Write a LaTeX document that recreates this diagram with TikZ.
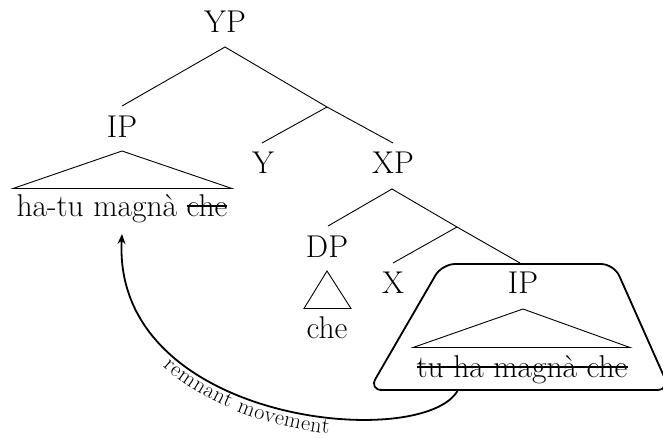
\documentclass[tikz,border=0pt]{standalone}
\usetikzlibrary{arrows.meta,decorations.text}
\newcommand\strk[1]{\setbox0\hbox{#1}\rlap{\rule[9.5pt]{\wd0}{1.1pt}}\box0}
\begin{document}
\begin{tikzpicture}[x=1pt,y=-1pt,
  lbl/.style={anchor=base,inner sep=0pt,font=\fontsize{31.5}{36}\selectfont},
  branch/.style={line width=0.9pt},
  tri/.style={line width=0.9pt},
  box/.style={line width=1.8pt,rounded corners=13pt},
  move/.style={line width=1.8pt,-{Stealth[length=10pt,width=8pt]}}]
\useasboundingbox (0,0) rectangle (663,437);
% nodes
\node[lbl] (yp) at (225,32) {YP};
\node[lbl] (ip1) at (122,137) {IP};
\node[lbl] (y) at (263,173) {Y};
\node[lbl] (xp) at (393,173) {XP};
\node[lbl] (dp) at (327,257) {DP};
\node[lbl] (x) at (393,293) {X};
\node[lbl] (ip2) at (523,293) {IP};
\node[lbl] (s1) at (122,216) {ha-tu magnà \strk{che}};
\node[lbl] (che) at (327,338) {che};
\node[lbl] (s2) at (522,377) {\strk{tu ha magnà che}};
% branch points
\coordinate (ypb) at (225,47);
\coordinate (ip1t) at (122,106);
\coordinate (ybar) at (327,107);
\coordinate (yt) at (262,143);
\coordinate (xpt) at (393,143);
\coordinate (xpb) at (392,189);
\coordinate (dpt) at (328,226);
\coordinate (xbar) at (457,227);
\coordinate (xt) at (393,263);
\coordinate (ip2t) at (520,263);
% tree
\draw[branch] (ip1t) -- (ypb) -- (ybar) -- (xpt);
\draw[branch] (ybar) -- (yt);
\draw[branch] (dpt) -- (xpb) -- (xbar) -- (ip2t);
\draw[branch] (xbar) -- (xt);
% triangles
\coordinate (t1a) at (122,151);
\coordinate (t1l) at (13,188.5);
\coordinate (t1r) at (232,188.5);
\draw[tri] (t1l) -- (t1a) -- (t1r) -- cycle;
\coordinate (t2a) at (327,271);
\coordinate (t2l) at (304,308.5);
\coordinate (t2r) at (351,308.5);
\draw[tri] (t2l) -- (t2a) -- (t2r) -- cycle;
\coordinate (t3a) at (523,309);
\coordinate (t3l) at (413,347.5);
\coordinate (t3r) at (630,347.5);
\draw[tri] (t3l) -- (t3a) -- (t3r) -- cycle;
% trapezoid
\coordinate (bm) at (528,264);
\coordinate (btr) at (614,264);
\coordinate (bbr) at (670,390);
\coordinate (bbl) at (369,390);
\coordinate (btl) at (442,264);
\draw[box] (bm) -- (btr) -- (bbr) -- (bbl) -- (btl) -- cycle;
% movement arrow
\coordinate (mstart) at (458,390);
\coordinate (mend) at (122,234);
\draw[move] (mstart) .. controls (425,452) and (112,425) .. (mend);
\fontsize{22}{26}\selectfont
\path[decorate,decoration={text along path,
   text={remnant movement},
   text align=center, raise=-16pt}]
   (mend) .. controls (112,425) and (425,452) .. (mstart);
\end{tikzpicture}
\end{document}
